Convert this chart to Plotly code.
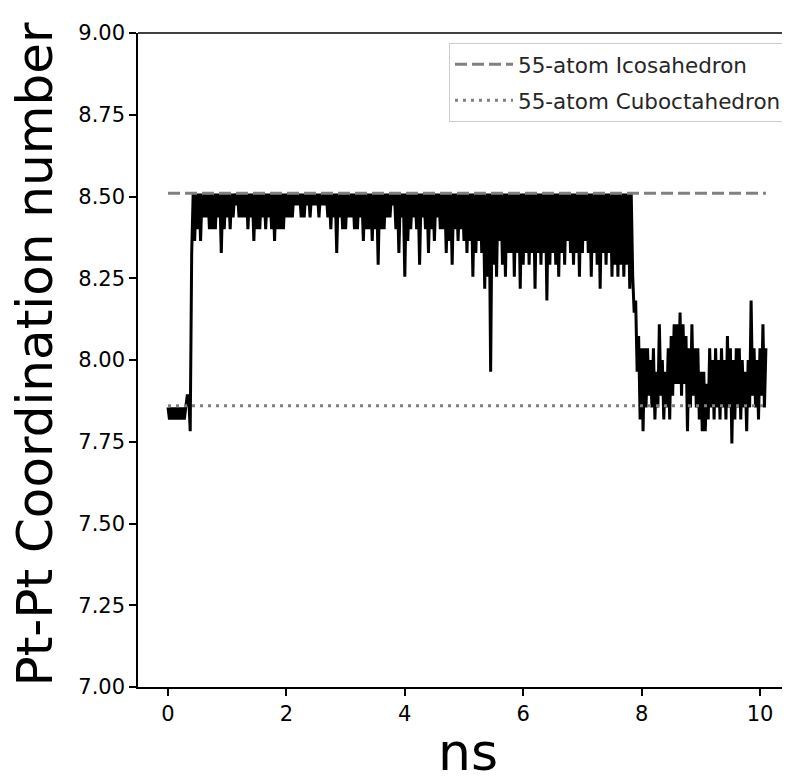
import numpy as np
import plotly.graph_objects as go

# ---------------- data ----------------
dt_ns = 0.025  # sampling interval of the trajectory (ns)

# 0 - 0.40 ns : cuboctahedral start
cn_start = [7.855, 7.818, 7.855, 7.818, 7.855, 7.818, 7.855, 7.818, 7.855, 7.818,
            7.855, 7.818, 7.855, 7.891, 7.891, 7.782, 8.327]

# 0.425 - 7.80 ns : icosahedral plateau
cn_icosahedral = [
    8.509, 8.364, 8.509, 8.400, 8.509, 8.364, 8.509, 8.436, 8.509, 8.436,
    8.509, 8.400, 8.509, 8.400, 8.509, 8.400, 8.509, 8.436, 8.509, 8.327,
    8.509, 8.400, 8.509, 8.436, 8.509, 8.400, 8.509, 8.436, 8.509, 8.473,
    8.509, 8.436, 8.509, 8.436, 8.509, 8.436, 8.509, 8.400, 8.509, 8.436,
    8.509, 8.364, 8.509, 8.400, 8.509, 8.400, 8.509, 8.436, 8.509, 8.400,
    8.509, 8.436, 8.509, 8.400, 8.509, 8.364, 8.509, 8.400, 8.509, 8.400,
    8.509, 8.400, 8.509, 8.436, 8.509, 8.436, 8.509, 8.436, 8.509, 8.473,
    8.509, 8.473, 8.509, 8.436, 8.509, 8.436, 8.509, 8.473, 8.509, 8.436,
    8.509, 8.473, 8.509, 8.473, 8.509, 8.436, 8.509, 8.473, 8.509, 8.473,
    8.509, 8.436, 8.509, 8.400, 8.509, 8.436, 8.509, 8.327, 8.509, 8.436,
    8.509, 8.400, 8.509, 8.400, 8.509, 8.436, 8.509, 8.436, 8.509, 8.400,
    8.509, 8.400, 8.509, 8.436, 8.509, 8.364, 8.509, 8.400, 8.509, 8.400,
    8.509, 8.364, 8.509, 8.400, 8.509, 8.291, 8.509, 8.400, 8.509, 8.400,
    8.509, 8.436, 8.509, 8.436, 8.509, 8.473, 8.509, 8.400, 8.509, 8.327,
    8.509, 8.436, 8.509, 8.255, 8.509, 8.364, 8.509, 8.400, 8.509, 8.436,
    8.509, 8.400, 8.509, 8.291, 8.509, 8.436, 8.509, 8.400, 8.509, 8.327,
    8.509, 8.400, 8.509, 8.364, 8.509, 8.436, 8.509, 8.400, 8.509, 8.400,
    8.509, 8.327, 8.509, 8.364, 8.509, 8.291, 8.509, 8.400, 8.509, 8.364,
    8.509, 8.400, 8.509, 8.364, 8.509, 8.327, 8.509, 8.364, 8.509, 8.255,
    8.509, 8.327, 8.509, 8.364, 8.509, 8.327, 8.509, 8.218, 8.509, 8.255,
    8.509, 7.964, 8.509, 8.291, 8.509, 8.255, 8.509, 8.364, 8.509, 8.291,
    8.509, 8.255, 8.509, 8.327, 8.509, 8.327, 8.509, 8.255, 8.509, 8.327,
    8.509, 8.218, 8.509, 8.291, 8.509, 8.327, 8.509, 8.291, 8.509, 8.327,
    8.509, 8.218, 8.509, 8.327, 8.509, 8.291, 8.509, 8.327, 8.509, 8.182,
    8.509, 8.291, 8.509, 8.327, 8.509, 8.291, 8.509, 8.255, 8.509, 8.327,
    8.509, 8.291, 8.509, 8.364, 8.509, 8.327, 8.509, 8.291, 8.509, 8.327,
    8.509, 8.255, 8.509, 8.327, 8.509, 8.364, 8.509, 8.327, 8.509, 8.255,
    8.509, 8.327, 8.509, 8.291, 8.509, 8.218, 8.509, 8.327, 8.509, 8.291,
    8.509, 8.327, 8.509, 8.255, 8.509, 8.291, 8.509, 8.255, 8.509, 8.291,
    8.509, 8.255, 8.509, 8.291, 8.509, 8.218,
]

# 7.825 - 10.10 ns : after the transition
cn_late = [
    8.509, 8.255, 8.145, 8.182, 7.964, 8.073, 7.818, 8.036, 7.782, 8.036,
    7.855, 8.036, 7.891, 8.000, 7.855, 8.036, 7.818, 7.964, 7.855, 8.109,
    7.891, 8.000, 7.818, 7.964, 7.855, 8.036, 7.818, 8.073, 7.891, 8.109,
    7.927, 8.109, 7.927, 8.145, 7.891, 8.109, 7.927, 8.073, 7.782, 8.036,
    7.855, 8.109, 7.891, 8.036, 7.855, 8.036, 7.818, 7.964, 7.782, 7.964,
    7.782, 7.927, 7.818, 8.036, 7.855, 8.000, 7.818, 8.036, 7.855, 8.000,
    7.818, 8.036, 7.855, 8.000, 7.818, 8.073, 7.855, 8.036, 7.745, 8.000,
    7.818, 8.036, 7.855, 8.036, 7.818, 8.000, 7.855, 7.964, 7.782, 8.000,
    7.855, 8.182, 7.891, 8.036, 7.855, 8.000, 7.818, 8.036, 7.891, 8.109,
    7.855, 8.036,
]

ico_cn = 8.51    # 55-atom icosahedron reference
cubo_cn = 7.86   # 55-atom cuboctahedron reference
ref_span = [0.0, 10.1]

y_ticks = [7.00, 7.25, 7.50, 7.75, 8.00, 8.25, 8.50, 8.75, 9.00]
x_ticks = [0, 2, 4, 6, 8, 10]

cn = cn_start + cn_icosahedral + cn_late
time_ns = np.arange(len(cn)) * dt_ns

FONT = "DejaVu Sans"

fig = go.Figure()
fig.add_trace(go.Scatter(
    x=time_ns, y=cn, mode="lines",
    line=dict(color="black", width=3),
    showlegend=False, hoverinfo="skip",
))
fig.add_trace(go.Scatter(
    x=ref_span, y=[ico_cn, ico_cn], mode="lines",
    line=dict(color="#808080", width=3, dash="12px,5px"),
    name="55-atom Icosahedron", legendgroup="a",
))
fig.add_trace(go.Scatter(
    x=ref_span, y=[cubo_cn, cubo_cn], mode="lines",
    line=dict(color="#808080", width=3, dash="3px,5px"),
    name="55-atom Cuboctahedron", legendgroup="b",
))

axis_common = dict(
    showline=True, linecolor="black", linewidth=1.5,
    ticks="outside", ticklen=7, tickwidth=1.5, tickcolor="black",
    showgrid=False, zeroline=False, automargin=False,
    tickfont=dict(family=FONT, size=21, color="black"),
)

# the page body adds an 8 px margin, so the figure is 8 px smaller each way
fig.update_layout(
    width=782, height=771,
    margin=dict(l=130, r=0, t=25, b=92, autoexpand=False),
    paper_bgcolor="white", plot_bgcolor="white",
    font=dict(family=FONT, color="black"),
    xaxis=dict(range=[-0.507, 10.507], tickvals=x_ticks, **axis_common),
    yaxis=dict(range=[7, 9], tickvals=y_ticks, tickformat=".2f", **axis_common),
    legend=dict(
        x=0.9954, xanchor="right", y=0.985, yanchor="top",
        bgcolor="rgba(255,255,255,0.8)", bordercolor="#cccccc", borderwidth=1,
        font=dict(family=FONT, size=21.5, color="#262626"),
        tracegroupgap=5, itemwidth=58,
    ),
    shapes=[dict(type="line", xref="paper", yref="paper", x0=0, x1=1, y0=1, y1=1,
                 line=dict(color="black", width=1.5))],
    annotations=[
        dict(text="ns", xref="paper", yref="paper", x=0.5054, y=-0.0994,
             xanchor="center", yanchor="middle", showarrow=False,
             font=dict(family=FONT, size=52, color="black")),
        dict(text="Pt-Pt Coordination number", xref="paper", yref="paper",
             x=-0.1584, y=0.508, xanchor="center", yanchor="middle",
             textangle=-90, showarrow=False,
             font=dict(family=FONT, size=50, color="black")),
    ],
    showlegend=True,
)

fig.write_html("out.html")
